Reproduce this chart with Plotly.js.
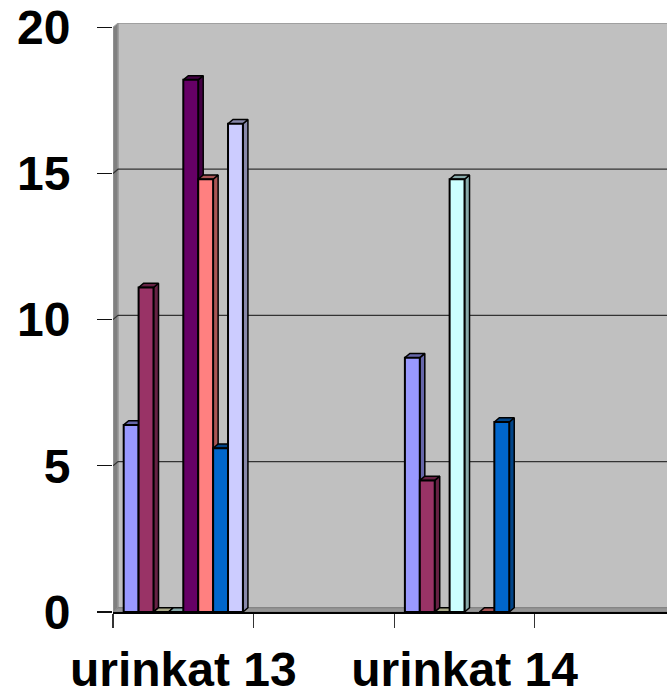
<!DOCTYPE html>
<html>
<head>
<meta charset="utf-8">
<script src="https://cdn.plot.ly/plotly-3.0.1.min.js"></script>
<style>
html,body{margin:0;padding:0;background:#fff;overflow:hidden}
#chart{width:667px;height:690px}
</style>
</head>
<body>
<div id="chart"></div>
<script>
// Category slots along the axis: only every other label is shown in the chart
const categories = ["urinkat 13", "", "urinkat 14", ""];
const yTicks = [0, 5, 10, 15, 20];

// One value per category slot; null = nothing drawn
const series1 = [6.4, null, 8.7, null];
const series2 = [11.1, null, 4.5, null];
const series3 = [0, null, 0, null];
const series4 = [0, null, 14.8, null];
const series5 = [18.2, null, null, null];
const series6 = [14.8, null, 0, null];
const series7 = [5.6, null, 6.5, null];
const series8 = [16.7, null, null, null];
const allSeries = [series1, series2, series3, series4, series5, series6, series7, series8];

const frontColors = ["#9999FF", "#993366", "#FFFFCC", "#CCFFFF", "#660066", "#FF8080", "#0066CC", "#CCCCFF"];
const shadeColors = ["#6666AA", "#662244", "#AAAA88", "#88AAAA", "#440044", "#AA5555", "#004488", "#8888AA"];

// Scales and pseudo-3D depth, in axis units
const xMin = -0.5, xMax = 3.44, yMin = 0, yMaxTick = 20;
const depthX = 0.0356, depthY = 0.145;
const yTop = yMaxTick + depthY;
const barGap = 0.152;
const barW = (1 - barGap) / allSeries.length;

const xIdx = categories.map((_, i) => i);
const traces = [];
const poly = (x, y, fill, line, width) => ({
  type: "scatter", mode: "lines", x, y, xaxis: "x", yaxis: "y",
  fill: "toself", fillcolor: fill,
  line: {color: line, width: width},
  hoverinfo: "skip", showlegend: false, cliponaxis: false
});
const lineTrace = (x, y, color, width) => ({
  type: "scatter", mode: "lines", x, y, xaxis: "x", yaxis: "y",
  line: {color, width}, hoverinfo: "skip", showlegend: false, cliponaxis: false
});

// Back wall, side wall, floor
traces.push(poly([xMin + depthX, xMax + 1, xMax + 1, xMin + depthX, xMin + depthX],
                 [yMin + depthY, yMin + depthY, yTop, yTop, yMin + depthY], "#C0C0C0", "#808080", 1));
traces.push(poly([xMin, xMin + depthX, xMin + depthX, xMin, xMin],
                 [yMin, yMin + depthY, yTop, yMaxTick, yMin], "#808080", "#A0A0A0", 1));
traces.push(poly([xMin, xMin + depthX, xMax + 1, xMax + 1, xMin],
                 [yMin, yMin + depthY, yMin + depthY, yMin, yMin], "#969696", "#808080", 1));

// Gridlines on side and back walls
yTicks.filter(v => v > 0 && v < yMaxTick).forEach(v => {
  traces.push(lineTrace([xMin, xMin + depthX, xMax + 1], [v, v + depthY, v + depthY], "#333333", 1.2));
});

// Side and top faces, left to right
allSeries.forEach((vals, s) => {
  const sx = [], sy = [], tx = [], ty = [];
  vals.forEach((v, c) => {
    if (v === null) return;
    const l = xIdx[c] + (s - allSeries.length / 2) * barW;
    const r = l + barW;
    sx.push(r, r + depthX, r + depthX, r, r, null);
    sy.push(0, depthY, v + depthY, v, 0, null);
    tx.push(l, l + depthX, r + depthX, r, l, null);
    ty.push(v, v + depthY, v + depthY, v, v, null);
  });
  traces.push(poly(sx, sy, shadeColors[s], "#000000", 1.5));
  traces.push(poly(tx, ty, shadeColors[s], "#000000", 1.5));
});

// Front faces, on the overlaid subplot so they cover the neighbour's side face
allSeries.forEach((vals, s) => {
  traces.push({
    type: "bar", x: xIdx, y: vals, xaxis: "x2", yaxis: "y2",
    marker: {color: frontColors[s], line: {color: "#000000", width: 2}},
    hoverinfo: "skip", showlegend: false, cliponaxis: false
  });
});

const tickFont = {family: '"Liberation Sans", Arial, sans-serif', size: 48, color: "#000000", weight: 700};

const layout = {
  width: 667, height: 690,
  margin: {l: 113, r: 0, t: 23, b: 78, pad: 0},
  paper_bgcolor: "#FFFFFF", plot_bgcolor: "rgba(0,0,0,0)",
  barmode: "group", bargap: barGap, bargroupgap: 0,
  showlegend: false,
  xaxis: {
    type: "linear", range: [xMin, xMax], showgrid: false, zeroline: false,
    showline: true, linecolor: "#000000", linewidth: 1.5,
    tickmode: "array", tickvals: xIdx.map(i => i - 0.5), ticktext: xIdx.map(() => ""),
    ticks: "outside", ticklen: 14, tickwidth: 1.2, tickcolor: "#333333"
  },
  xaxis2: {
    type: "linear", range: [xMin, xMax], overlaying: "x", anchor: "y2", side: "bottom",
    showgrid: false, zeroline: false, showline: false,
    tickmode: "array", tickvals: xIdx, ticktext: categories,
    ticks: "", ticklabelstandoff: 25, tickfont: tickFont
  },
  yaxis: {
    type: "linear", range: [yMin, yTop], showgrid: false, zeroline: false,
    showline: false,
    tickmode: "array", tickvals: yTicks, ticktext: yTicks.map(String),
    ticks: "outside", ticklen: 15, tickwidth: 1.2, tickcolor: "#111111",
    ticklabelstandoff: 17, tickfont: tickFont
  },
  yaxis2: {
    type: "linear", range: [yMin, yTop], overlaying: "y", anchor: "x2",
    showgrid: false, zeroline: false, showline: false, showticklabels: false, ticks: ""
  }
};

Plotly.newPlot("chart", traces, layout, {displayModeBar: false, staticPlot: true});
</script>
</body>
</html>
